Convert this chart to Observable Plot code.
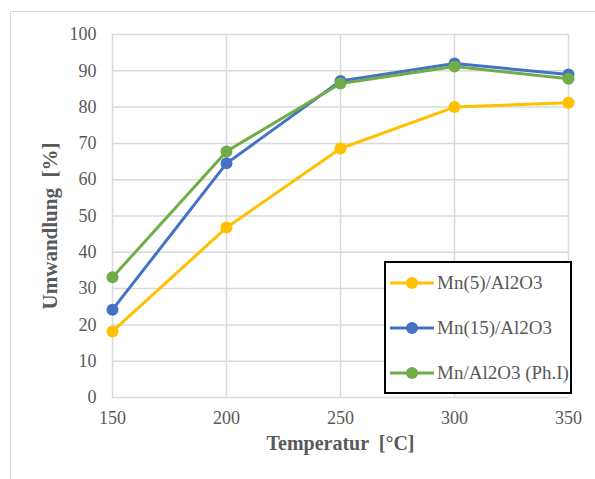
<!DOCTYPE html>
<html>
<head>
<meta charset="utf-8">
<script src="https://cdn.jsdelivr.net/npm/d3@7"></script>
<script src="https://cdn.jsdelivr.net/npm/@observablehq/plot@0.6"></script>
<style>
  html, body { margin: 0; padding: 0; background: #fff; }
  #wrap { position: relative; width: 595px; height: 479px; overflow: hidden; }
  #frame { position: absolute; left: 10px; top: 11px; width: 700px; height: 700px; border: 1.5px solid #d9d9d9; box-sizing: border-box; }
  #chart { position: absolute; left: 0; top: 0; }
  #chart svg [aria-label="x-axis tick label"], #chart svg [aria-label="y-axis tick label"] { font-size: 18px; font-family: "Liberation Serif", serif; }
  #legend { position: absolute; left: 384px; top: 261px; width: 188px; height: 133px; border: 2px solid #000; box-sizing: border-box; background: #fff;
    font-family: "Liberation Serif", serif; font-size: 19px; color: #595959; }
  .item { position: absolute; left: 4px; display: flex; align-items: center; white-space: nowrap; }
  .item svg { margin-right: 3px; }
</style>
</head>
<body>
<div id="wrap">
  <div id="frame"></div>
  <div id="chart"></div>
  <div id="legend"></div>
</div>
<script>
const temperatures = [150, 200, 250, 300, 350];
const seriesNames = ["Mn(5)/Al2O3", "Mn(15)/Al2O3", "Mn/Al2O3 (Ph.I)"];
const mn5 = [18.2, 46.8, 68.6, 80.0, 81.2];
const mn15 = [24.2, 64.5, 87.2, 92.0, 89.0];
const mnPh = [33.1, 67.8, 86.5, 91.2, 87.8];
const colors = ["#FFC000", "#4472C4", "#70AD47"];
const yTicks = [0, 10, 20, 30, 40, 50, 60, 70, 80, 90, 100];
const xTicks = [150, 200, 250, 300, 350];

const values = [mn5, mn15, mnPh];
const data = [];
seriesNames.forEach((s, i) => temperatures.forEach((t, j) => data.push({series: s, t, v: values[i][j]})));

const chart = Plot.plot({
  width: 595,
  height: 479,
  marginLeft: 112,
  marginRight: 27,
  marginTop: 34,
  marginBottom: 82,
  style: {fontFamily: "'Liberation Serif', serif", background: "transparent"},
  x: {domain: [150, 350]},
  y: {domain: [0, 100]},
  color: {domain: seriesNames, range: colors},
  marks: [
    Plot.gridY(yTicks, {stroke: "#d9d9d9", strokeOpacity: 1, strokeWidth: 1.5}),
    Plot.gridX(xTicks, {stroke: "#d9d9d9", strokeOpacity: 1, strokeWidth: 1.5}),
    Plot.axisY(yTicks, {tickSize: 0, tickPadding: 16, fontSize: 18, fill: "#595959", label: null}),
    Plot.axisX(xTicks, {tickSize: 0, tickPadding: 14, fontSize: 18, fill: "#595959", label: null}),
    Plot.text(["Umwandlung  [%]"], {frameAnchor: "left", textAnchor: "middle", dx: -62, dy: 10, rotate: -90, fontSize: 21, fontWeight: "bold", fill: "#595959"}),
    Plot.text(["Temperatur  [°C]"], {frameAnchor: "bottom", dy: 52, fontSize: 20, fontWeight: "bold", fill: "#595959"}),
    Plot.line(data, {x: "t", y: "v", z: "series", stroke: "series", strokeWidth: 3}),
    Plot.dot(data, {x: "t", y: "v", fill: "series", r: 6})
  ]
});
document.getElementById("chart").appendChild(chart);

const legend = document.getElementById("legend");
const tops = [20, 65, 110];
seriesNames.forEach((s, i) => {
  const d = document.createElement("div");
  d.className = "item";
  d.style.top = (tops[i] - 12) + "px";
  d.innerHTML = `<svg width="44" height="24"><line x1="0" y1="12" x2="44" y2="12" stroke="${colors[i]}" stroke-width="3"/><circle cx="22" cy="12" r="6" fill="${colors[i]}"/></svg><span>${s}</span>`;
  legend.appendChild(d);
});
</script>
</body>
</html>
